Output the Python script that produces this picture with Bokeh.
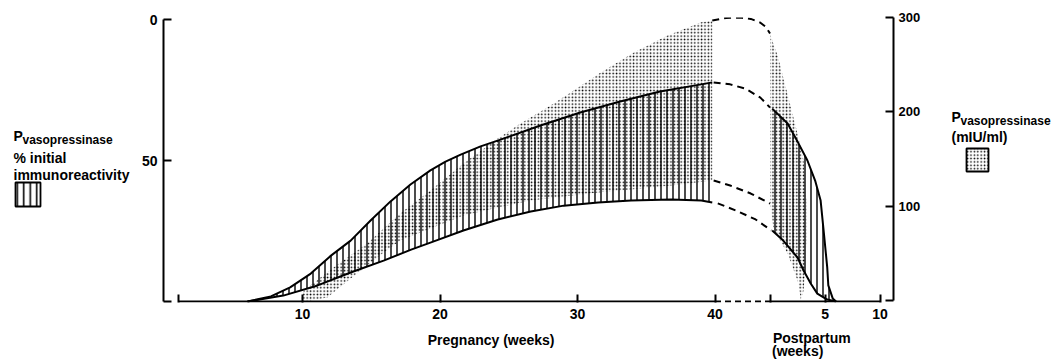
from bokeh.plotting import figure
from bokeh.models import Range1d, LinearAxis, FixedTicker, Label
from bokeh.layouts import row, column
from bokeh.embed import file_html
from bokeh.resources import INLINE

# ---------------- data ----------------
# Pregnancy: vasopressinase as % initial immunoreactivity (hatched band, left axis, inverted)
preg_hatch_top_wk = [6.0, 7.7, 9.1, 10.6, 12.0, 13.5, 14.95, 16.4, 17.85, 19.3, 20.4, 21.5, 22.95, 24.4, 27.3, 30.2, 33.1, 36.0, 39.0, 39.8]
preg_hatch_top_pct = [100, 98.2, 95.0, 90.1, 84.0, 78.4, 71.3, 64.5, 58.5, 53.5, 50.4, 47.9, 45.0, 42.6, 37.6, 33.0, 29.1, 25.5, 23.0, 22.3]
preg_hatch_bot_wk = [6.0, 8.6, 11.1, 13.5, 15.9, 17.9, 19.3, 21.7, 24.2, 26.6, 29.0, 31.5, 33.9, 36.8, 39.0, 39.8]
preg_hatch_bot_pct = [100, 97.9, 94.3, 89.7, 85.5, 81.6, 79.1, 74.8, 70.9, 68.1, 66.0, 64.9, 64.2, 63.8, 64.2, 64.9]

# Pregnancy: vasopressinase in mIU/ml (stippled band, right axis)
preg_stip_top_wk = [9.85, 10.1, 12.25, 14.7, 17.1, 19.3, 21.7, 24.2, 25.85, 27.8, 29.5, 31.7, 34.1, 36.55, 38.95, 39.8]
preg_stip_top_miu = [0, 10.6, 35.0, 60.4, 92.2, 116.6, 145.2, 171.7, 187.6, 204.6, 220.5, 241.7, 262.9, 280.9, 294.7, 296.8]
preg_stip_bot_wk = [10.6, 11.8, 13.5, 15.9, 17.1, 19.3, 21.7, 24.2, 26.6, 29.0, 31.45, 33.85, 36.8, 39.8]
preg_stip_bot_miu = [0, 3.2, 23.3, 50.9, 63.6, 76.3, 90.1, 98.6, 106.0, 110.3, 114.5, 117.7, 121.9, 127.2]

# Dashed extrapolations between 40 weeks and delivery
gap_stip_top_wk = [39.8, 40.8, 41.8, 42.6, 43.3, 43.7, 44.0]
gap_stip_top_miu = [296.8, 299.5, 300.0, 298.5, 294.5, 290.0, 283.0]
gap_hatch_top_wk = [39.9, 41.1, 42.2, 43.3, 44.0]
gap_hatch_top_pct = [22.3, 23.0, 24.5, 27.7, 31.2]
gap_stip_bot_wk = [39.9, 41.1, 42.6, 44.0]
gap_stip_bot_miu = [127.2, 121.9, 113.4, 102.8]
gap_hatch_bot_wk = [40.2, 41.5, 42.95, 44.1]
gap_hatch_bot_pct = [65.2, 67.7, 70.9, 74.8]

# Postpartum (weeks after delivery)
pp_hatch_top_wk = [0.2, 1.6, 2.6, 3.4, 4.1, 4.6, 4.9, 5.2, 5.3, 5.7, 6.0]
pp_hatch_top_pct = [31.6, 36.9, 44.0, 50.0, 57.1, 64.2, 75.9, 87.9, 94.3, 98.9, 100]
pp_hatch_bot_wk = [0.2, 1.2, 2.5, 3.05, 3.7, 4.3, 5.2, 6.0]
pp_hatch_bot_pct = [74.8, 78.4, 84.4, 89.0, 93.6, 97.2, 99.3, 100]
pp_stip_top_wk = [0.0, 0.3, 0.7, 1.2, 1.9, 2.5, 3.05, 3.3, 3.3, 3.2, 3.05, 2.8]
pp_stip_top_miu = [283, 272.4, 259.7, 236.4, 204.6, 177.0, 148.4, 106.0, 63.6, 31.8, 10.6, 0]
pp_stip_bot_wk = [0.0, 0.3, 1.0, 1.6, 2.1, 2.5, 2.7, 2.8]
pp_stip_bot_miu = [102.8, 78, 62, 49.8, 34, 21.2, 8.5, 0]

# Axes
left_ticks = [0, 50, 100]
right_ticks = [0, 100, 200, 300]
preg_ticks = [10, 20, 30, 40]
pp_ticks = [5, 10]
preg_axis = [1, 40]
pp_axis = [0, 10]

# postpartum weeks are drawn on a compressed scale after a break
PP_ORIGIN = 44.0
PP_SCALE = 0.8


def pp_x(w):
    return PP_ORIGIN + PP_SCALE * w


FONT = "Liberation Sans"
LEFT_W, MAIN_W, RIGHT_W = 135, 793, 124
MAIN_H, BOT_H = 326, 34
TOTAL_H = MAIN_H + BOT_H

# ---------------- main plot ----------------
p = figure(width=MAIN_W, height=MAIN_H, output_backend="svg", toolbar_location=None,
           x_range=Range1d(-0.11, 52.98), y_range=Range1d(100.35, -0.71),
           min_border_left=28, min_border_right=35, min_border_top=17, min_border_bottom=24,
           title=None)
p.extra_y_ranges = {"miu": Range1d(-2.12, 300)}
p.grid.visible = False
p.outline_line_color = None


def style_axis(ax, standoff, size):
    ax.axis_line_width = 2
    ax.axis_line_color = "black"
    ax.major_tick_line_width = 2
    ax.major_tick_in = 8
    ax.major_tick_out = 0
    ax.minor_tick_line_color = None
    ax.major_label_text_font = FONT
    ax.major_label_text_font_style = "bold"
    ax.major_label_text_font_size = size
    ax.major_label_text_color = "black"
    ax.major_label_standoff = standoff


ly = p.yaxis[0]
ly.ticker = FixedTicker(ticks=left_ticks)
ly.major_label_overrides = {t: (str(t) if t != 100 else "") for t in left_ticks}
ly.bounds = (0, 100)
style_axis(ly, 6, "14px")

ry = LinearAxis(y_range_name="miu", ticker=FixedTicker(ticks=right_ticks), bounds=(0, 300))
ry.major_label_overrides = {t: (str(t) if t != 0 else "") for t in right_ticks}
style_axis(ry, 5, "13px")
p.add_layout(ry, "right")

bx = p.xaxis[0]
tick_pos = [preg_axis[0]] + preg_ticks + [pp_x(pp_axis[0])] + [pp_x(t) for t in pp_ticks]
tick_lab = [""] + [str(t) for t in preg_ticks] + [""] + [str(t) for t in pp_ticks]
bx.ticker = FixedTicker(ticks=tick_pos)
bx.major_label_overrides = dict(zip(tick_pos, tick_lab))
style_axis(bx, 6, "14px")
bx.axis_line_color = None

# broken baseline
p.line(preg_axis, [100, 100], line_color="black", line_width=2)
p.line([preg_axis[1], pp_x(pp_axis[0])], [100, 100], line_color="black", line_width=2, line_dash="6 4")
p.line([pp_x(v) for v in pp_axis], [100, 100], line_color="black", line_width=2)

HATCH = dict(fill_alpha=0, line_color=None, hatch_pattern="vertical_line", hatch_color="black",
             hatch_scale=6, hatch_weight=1.4)
STIP = dict(fill_alpha=0, line_color=None, hatch_pattern="dot", hatch_color="black",
            hatch_scale=3.4, hatch_weight=1.3)

p.patch(preg_hatch_top_wk + preg_hatch_bot_wk[::-1], preg_hatch_top_pct + preg_hatch_bot_pct[::-1], **HATCH)
ppx_ht = [pp_x(w) for w in pp_hatch_top_wk]
ppx_hb = [pp_x(w) for w in pp_hatch_bot_wk]
p.patch(ppx_ht + ppx_hb[::-1], pp_hatch_top_pct + pp_hatch_bot_pct[::-1], **HATCH)

p.patch(preg_stip_top_wk + preg_stip_bot_wk[::-1], preg_stip_top_miu + preg_stip_bot_miu[::-1],
        y_range_name="miu", **STIP)
ppx_st = [pp_x(w) for w in pp_stip_top_wk]
ppx_sb = [pp_x(w) for w in pp_stip_bot_wk]
p.patch(ppx_st + ppx_sb[::-1], pp_stip_top_miu + pp_stip_bot_miu[::-1], y_range_name="miu", **STIP)

for xs, ys in [(preg_hatch_top_wk, preg_hatch_top_pct), (preg_hatch_bot_wk, preg_hatch_bot_pct),
               (ppx_ht, pp_hatch_top_pct), (ppx_hb, pp_hatch_bot_pct)]:
    p.line(xs, ys, line_color="black", line_width=2, line_join="round")

DASH = dict(line_color="black", line_width=2, line_dash="7 5", line_join="round")
p.line(gap_hatch_top_wk, gap_hatch_top_pct, **DASH)
p.line(gap_hatch_bot_wk, gap_hatch_bot_pct, **DASH)
p.line(gap_stip_top_wk, gap_stip_top_miu, y_range_name="miu", **DASH)
p.line(gap_stip_bot_wk, gap_stip_bot_miu, y_range_name="miu", **DASH)


# ---------------- side panels (pixel coordinates) ----------------
def panel(w, h):
    f = figure(width=w, height=h, output_backend="svg", toolbar_location=None, title=None,
               x_range=Range1d(0, w), y_range=Range1d(h, 0),
               x_axis_location=None, y_axis_location=None,
               min_border_left=0, min_border_right=0, min_border_top=0, min_border_bottom=0)
    f.grid.visible = False
    f.outline_line_color = None
    return f


def lab(f, text, x, y, size):
    f.add_layout(Label(x=x, y=y, text=text, text_font=FONT, text_font_style="bold",
                       text_font_size=f"{size}px", text_color="black", text_align="left",
                       text_baseline="alphabetic"))


lf = panel(LEFT_W, TOTAL_H)
lab(lf, "P", 13, 135, 14)
lab(lf, "vasopressinase", 22, 139, 12)
lab(lf, "% initial", 13, 157, 14)
lab(lf, "immunoreactivity", 13, 174, 14)
lf.quad(left=15, right=40, top=182, bottom=206, fill_alpha=0, line_color="black", line_width=1.8,
        hatch_pattern="vertical_line", hatch_color="black", hatch_scale=6.5, hatch_weight=1.6)

rf = panel(RIGHT_W, TOTAL_H)
lab(rf, "P", 23, 116, 14)
lab(rf, "vasopressinase", 32, 120, 12)
lab(rf, "(mIU/ml)", 23, 136, 14)
rf.quad(left=38, right=60, top=148, bottom=171, fill_alpha=0, line_color="black", line_width=1.8,
        hatch_pattern="dot", hatch_color="black", hatch_scale=3.4, hatch_weight=1.3)

# bottom strip: page y = MAIN_H + local y
bf = panel(MAIN_W, BOT_H)
lab(bf, "Pregnancy  (weeks)", 287, 13, 14)
lab(bf, "Postpartum", 662, 11, 14)
lab(bf, "(weeks)", 661, 24, 14)

layout = row(lf, column(p, bf), rf)
open("out.html", "w").write(file_html(layout, INLINE))
